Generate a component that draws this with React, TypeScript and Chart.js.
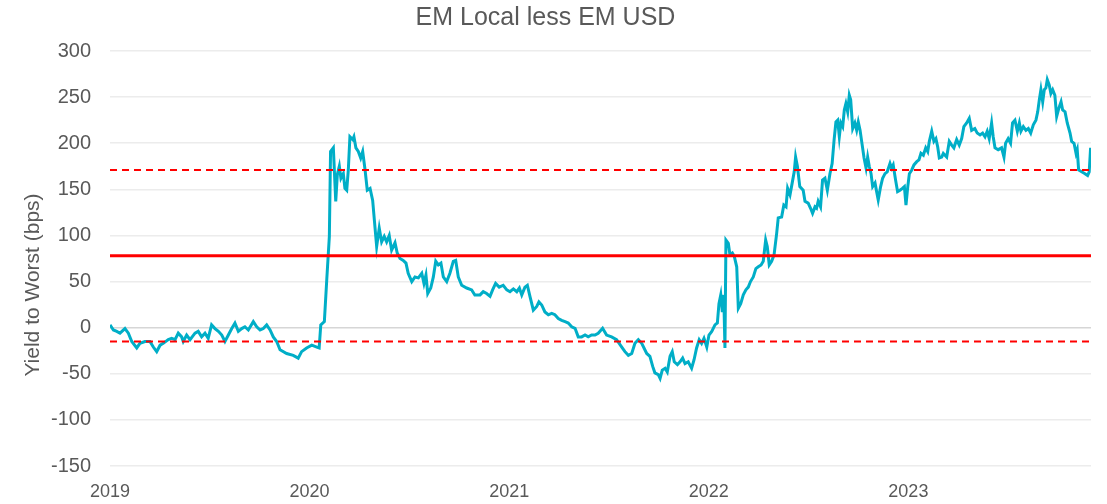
import React, { useEffect, useRef } from "react";
import { Chart, registerables } from "chart.js";

Chart.register(...registerables);

const TITLE = "EM Local less EM USD";
const Y_TITLE = "Yield to Worst (bps)";
const YEAR_TICKS = [2019, 2020, 2021, 2022, 2023];
const X_MIN = 2019;
const X_MAX = 2023.915;
const Y_MIN = -150;
const Y_MAX = 300;

const MEAN = 78;
const UPPER_BAND = 171;
const LOWER_BAND = -15;

// Dates as fractional years
const DATES = [
  2019.000, 2019.017, 2019.034, 2019.050, 2019.075, 2019.092, 2019.109, 2019.134, 2019.150, 2019.175,
  2019.200, 2019.217, 2019.234, 2019.251, 2019.267, 2019.292, 2019.309, 2019.326, 2019.342, 2019.359,
  2019.367, 2019.384, 2019.401, 2019.426, 2019.442, 2019.459, 2019.476, 2019.492, 2019.509, 2019.526,
  2019.543, 2019.560, 2019.576, 2019.593, 2019.610, 2019.626, 2019.643, 2019.660, 2019.676, 2019.693,
  2019.718, 2019.735, 2019.752, 2019.768, 2019.785, 2019.802, 2019.818, 2019.835, 2019.852, 2019.885,
  2019.918, 2019.943, 2019.960, 2019.985, 2020.011, 2020.036, 2020.048, 2020.056, 2020.074, 2020.086,
  2020.099, 2020.105, 2020.119, 2020.131, 2020.139, 2020.149, 2020.157, 2020.169, 2020.177, 2020.186,
  2020.194, 2020.202, 2020.216, 2020.222, 2020.232, 2020.244, 2020.256, 2020.266, 2020.278, 2020.289,
  2020.303, 2020.316, 2020.328, 2020.336, 2020.349, 2020.361, 2020.374, 2020.386, 2020.399, 2020.411,
  2020.428, 2020.439, 2020.453, 2020.469, 2020.483, 2020.494, 2020.512, 2020.528, 2020.545, 2020.562,
  2020.573, 2020.583, 2020.592, 2020.607, 2020.620, 2020.632, 2020.645, 2020.658, 2020.670, 2020.687,
  2020.703, 2020.720, 2020.732, 2020.745, 2020.762, 2020.787, 2020.812, 2020.828, 2020.854, 2020.870,
  2020.887, 2020.904, 2020.917, 2020.932, 2020.950, 2020.970, 2020.988, 2021.004, 2021.021, 2021.038,
  2021.051, 2021.063, 2021.079, 2021.091, 2021.104, 2021.121, 2021.138, 2021.149, 2021.163, 2021.179,
  2021.196, 2021.213, 2021.229, 2021.246, 2021.263, 2021.280, 2021.296, 2021.313, 2021.330, 2021.346,
  2021.363, 2021.380, 2021.396, 2021.413, 2021.430, 2021.446, 2021.468, 2021.488, 2021.513, 2021.538,
  2021.564, 2021.580, 2021.597, 2021.614, 2021.630, 2021.647, 2021.664, 2021.689, 2021.705, 2021.719,
  2021.730, 2021.747, 2021.756, 2021.767, 2021.781, 2021.792, 2021.806, 2021.817, 2021.827, 2021.843,
  2021.856, 2021.869, 2021.881, 2021.897, 2021.914, 2021.926, 2021.939, 2021.952, 2021.964, 2021.976,
  2021.990, 2022.001, 2022.015, 2022.031, 2022.043, 2022.051, 2022.060, 2022.068, 2022.075, 2022.081,
  2022.086, 2022.098, 2022.106, 2022.118, 2022.128, 2022.140, 2022.148, 2022.160, 2022.173, 2022.186,
  2022.198, 2022.209, 2022.223, 2022.236, 2022.248, 2022.262, 2022.273, 2022.285, 2022.293, 2022.303,
  2022.315, 2022.327, 2022.340, 2022.348, 2022.365, 2022.376, 2022.387, 2022.395, 2022.407, 2022.418,
  2022.428, 2022.435, 2022.444, 2022.456, 2022.473, 2022.482, 2022.498, 2022.510, 2022.520, 2022.532,
  2022.540, 2022.548, 2022.560, 2022.570, 2022.582, 2022.594, 2022.607, 2022.618, 2022.628, 2022.637,
  2022.646, 2022.654, 2022.662, 2022.671, 2022.679, 2022.687, 2022.696, 2022.704, 2022.711, 2022.721,
  2022.732, 2022.741, 2022.749, 2022.758, 2022.766, 2022.778, 2022.788, 2022.796, 2022.804, 2022.813,
  2022.821, 2022.833, 2022.841, 2022.849, 2022.861, 2022.871, 2022.883, 2022.894, 2022.908, 2022.916,
  2022.924, 2022.936, 2022.946, 2022.958, 2022.970, 2022.980, 2022.988, 2022.997, 2023.005, 2023.017,
  2023.028, 2023.042, 2023.053, 2023.063, 2023.075, 2023.087, 2023.097, 2023.105, 2023.117, 2023.128,
  2023.138, 2023.147, 2023.155, 2023.167, 2023.175, 2023.192, 2023.205, 2023.217, 2023.228, 2023.242,
  2023.255, 2023.267, 2023.278, 2023.292, 2023.305, 2023.317, 2023.333, 2023.345, 2023.359, 2023.372,
  2023.384, 2023.395, 2023.405, 2023.417, 2023.425, 2023.434, 2023.450, 2023.467, 2023.479, 2023.487,
  2023.500, 2023.512, 2023.522, 2023.534, 2023.546, 2023.556, 2023.564, 2023.576, 2023.589, 2023.601,
  2023.613, 2023.626, 2023.639, 2023.648, 2023.656, 2023.664, 2023.673, 2023.681, 2023.689, 2023.696,
  2023.706, 2023.714, 2023.723, 2023.734, 2023.743, 2023.754, 2023.765, 2023.773, 2023.785, 2023.796,
  2023.810, 2023.818, 2023.830, 2023.840, 2023.846, 2023.853, 2023.868, 2023.885, 2023.898, 2023.906,
  2023.913,
];

// EM Local less EM USD yield to worst spread (bps)
const SPREAD = [
  3, -2.5, -4, -6, -1, -6, -15, -22, -17, -15,
  -15, -21, -26, -19, -17, -13, -11.5, -13, -6, -10,
  -15, -8, -13, -6, -4, -10, -6, -11.5, 3, -1,
  -4, -8, -15, -8, -1, 5, -4, -1, 1, -2.5,
  6.5, 1, -2.5, -1, 3, -2.5, -10, -15, -24, -28,
  -30, -33, -26, -22, -19, -21, -22, 3, 6.5, 52,
  99, 191, 195, 137, 166, 175, 162, 167, 151, 149,
  171, 207, 204, 207, 195, 191, 184, 191, 171, 149,
  151, 138, 108, 88, 108, 93, 99, 93, 100, 84,
  92, 81, 75, 73, 70, 59, 50, 55, 54, 59,
  48, 57, 37, 43, 55, 72, 68, 70, 55, 50,
  59, 72, 73, 55, 46, 43, 41, 35.5, 35.5, 39,
  37, 34, 41, 48, 44, 46, 41, 39, 42, 39,
  43, 35.5, 44, 46, 34, 19, 23, 28, 24.6, 17,
  14, 15.6, 14, 10, 8, 6.5, 5, 1, -0.7, -10,
  -10, -8, -10, -8, -8, -6, -0.7, -8, -10, -13,
  -21, -26, -30, -28, -17, -13, -17, -28, -31, -42,
  -49, -51, -55, -46, -44, -48, -31, -26, -37, -40,
  -37, -33, -39, -37, -44, -35, -22, -13, -17, -11.5,
  -21, -8, -4, 3, 5, 26, 35.5, 17, 35.5, -22,
  95, 91.5, 79, 81, 77, 66, 21, 26, 35.5, 41,
  44, 50, 55, 64, 66, 68, 72, 95, 88, 68,
  72, 79, 102, 119, 120, 133, 131, 151, 144, 157,
  169, 185, 175, 153, 149, 137, 135, 129.5, 124, 131,
  129.5, 137, 131, 160, 162, 149, 167, 178, 204, 223,
  225, 207, 222, 218, 236, 243, 234, 252, 247, 216,
  222, 214, 223, 214, 202, 184, 173, 185, 175, 167,
  153, 157, 147.5, 138.5, 153, 162, 167, 169, 178, 173,
  176.5, 160, 147.5, 149, 151, 153, 133, 153, 167, 171,
  176.5, 180, 182, 189, 187, 195, 191, 202, 213, 202,
  205, 196, 184, 185, 189, 185, 202, 198, 195, 204,
  198, 205, 218, 222, 227, 214, 216, 211, 209, 211,
  207, 213, 205, 222, 207, 195, 193, 195, 185, 200,
  205, 200, 222, 225, 213, 222, 213, 218, 214, 216,
  211, 220, 225, 234, 247, 258, 245, 258, 260, 269,
  263, 254, 258, 252, 229, 238, 245, 236, 234, 222,
  211, 202, 200, 189, 193, 171, 169, 167, 165, 169,
  195,
];

const TEXT_COLOR = "#595959";
const FONT_FAMILY = "'Liberation Sans', Arial, sans-serif";

const yTitlePlugin = {
  id: "yTitlePlugin",
  afterDraw(chart: any) {
    const { ctx } = chart;
    ctx.save();
    ctx.translate(33, 285);
    ctx.rotate(-Math.PI / 2);
    ctx.fillStyle = TEXT_COLOR;
    ctx.font = `21px ${FONT_FAMILY}`;
    ctx.textAlign = "center";
    ctx.textBaseline = "middle";
    ctx.fillText(Y_TITLE, 0, 0);
    ctx.restore();
  },
};

export default function App() {
  const canvasRef = useRef<HTMLCanvasElement | null>(null);

  useEffect(() => {
    if (!canvasRef.current) return;
    const spreadPoints = DATES.map((d, i) => ({ x: d, y: SPREAD[i] }));
    const flat = (v: number) => [
      { x: X_MIN, y: v },
      { x: X_MAX, y: v },
    ];
    const chart = new Chart(canvasRef.current, {
      type: "line",
      data: {
        datasets: [
          {
            label: "Average",
            data: flat(MEAN),
            borderColor: "#ff0000",
            borderWidth: 3,
            pointRadius: 0,
          },
          {
            label: "+1 SD",
            data: flat(UPPER_BAND),
            borderColor: "#ff0000",
            borderWidth: 2,
            borderDash: [7, 5],
            pointRadius: 0,
          },
          {
            label: "-1 SD",
            data: flat(LOWER_BAND),
            borderColor: "#ff0000",
            borderWidth: 2,
            borderDash: [7, 5],
            pointRadius: 0,
          },
          {
            label: TITLE,
            data: spreadPoints,
            borderColor: "#00aec7",
            borderWidth: 3,
            pointRadius: 0,
            tension: 0,
          },
        ],
      },
      options: {
        animation: false,
        responsive: true,
        maintainAspectRatio: false,
        layout: { padding: { left: 0, right: 16, top: 0, bottom: 0 } },
        plugins: {
          legend: { display: false },
          tooltip: { enabled: false },
          title: {
            display: true,
            text: TITLE,
            color: TEXT_COLOR,
            font: { family: FONT_FAMILY, size: 25, weight: "normal", lineHeight: 1.2 },
            padding: { top: 3, bottom: 18 },
          },
        },
        scales: {
          x: {
            type: "linear",
            min: X_MIN,
            max: X_MAX,
            afterBuildTicks: (axis: any) => {
              axis.ticks = YEAR_TICKS.map((v) => ({ value: v }));
            },
            afterFit: (scale: any) => {
              scale.height = 38;
            },
            grid: { display: false, drawTicks: false },
            border: { display: false },
            ticks: {
              autoSkip: false,
              maxRotation: 0,
              padding: 15,
              color: TEXT_COLOR,
              font: { family: FONT_FAMILY, size: 18 },
              callback: (v: any) => String(v),
            },
          },
          y: {
            min: Y_MIN,
            max: Y_MAX,
            afterFit: (scale: any) => {
              scale.width = 110;
            },
            grid: {
              drawTicks: false,
              lineWidth: 1.5,
              color: (ctx: any) => (ctx.tick && ctx.tick.value === 0 ? "#d6d6d6" : "#ececec"),
            },
            border: { display: false },
            ticks: {
              stepSize: 50,
              padding: 19,
              color: TEXT_COLOR,
              font: { family: FONT_FAMILY, size: 20 },
            },
          },
        },
      },
      plugins: [yTitlePlugin],
    });
    return () => chart.destroy();
  }, []);

  return (
    <div style={{ position: "fixed", left: 0, top: 0, width: 1107, height: 504, background: "#fff" }}>
      <canvas ref={canvasRef} />
    </div>
  );
}
